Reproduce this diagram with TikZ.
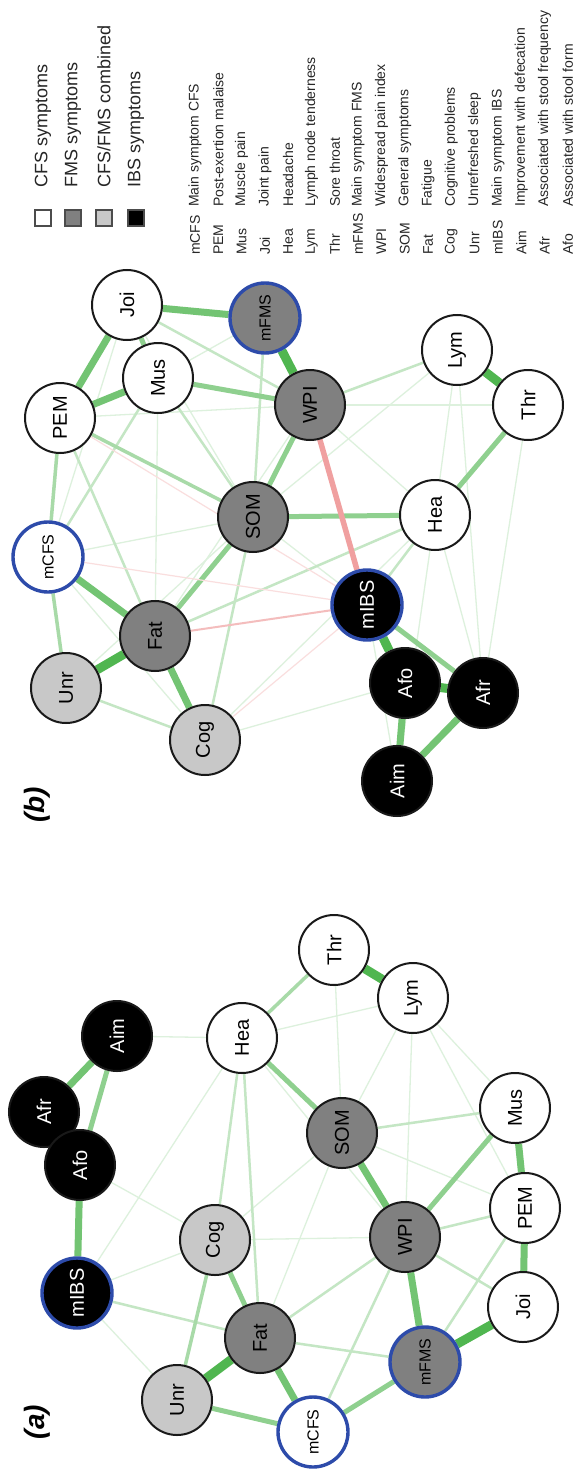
\documentclass[tikz,border=0pt]{standalone}
\usepackage{fontspec}
\setmainfont{Liberation Sans}
\definecolor{gr}{RGB}{115,196,115}
\definecolor{grd}{RGB}{80,182,80}
\definecolor{pk}{RGB}{240,160,160}
\definecolor{blu}{RGB}{45,75,170}
\definecolor{fmsc}{RGB}{128,128,128}
\definecolor{cmbc}{RGB}{200,200,200}
\pgfdeclarelayer{edges}
\pgfsetlayers{edges,main}
\begin{document}
\begin{tikzpicture}[x=1pt,y=-1pt,
 sym/.style={circle,draw=black!90,line width=2pt,minimum size=70pt,inner sep=0pt,rotate=90,font=\fontsize{20}{20}\selectfont},
 cfsn/.style={sym,fill=white},
 fmsn/.style={sym,fill=fmsc},
 cmbn/.style={sym,fill=cmbc},
 ibsn/.style={sym,fill=black,text=white},
 mainn/.style={draw=blu,line width=3.4pt},
 smalltxt/.style={font=\fontsize{16}{16}\selectfont},
 lwA/.style={draw=gr!24,line width=1.3pt},
 lwB/.style={draw=gr!42,line width=2.5pt},
 lwC/.style={draw=gr!62,line width=3.5pt},
 lwD/.style={draw=gr!80,line width=5pt},
 lwE/.style={draw=gr,line width=7pt},
 lwF/.style={draw=grd,line width=9pt},
 pkA/.style={draw=pk!35,line width=1.2pt},
 pkB/.style={draw=pk!70,line width=2pt},
 pkC/.style={draw=pk,line width=5.5pt},
 legsq/.style={draw=black!70,line width=1.2pt,minimum size=16pt,inner sep=0pt},
 legtxt/.style={rotate=90,anchor=west,inner sep=0pt,text=black!85,font=\fontsize{18}{18}\selectfont},
 abbr/.style={rotate=90,anchor=west,inner sep=0pt,text=black!85,font=\fontsize{14}{14}\selectfont},
 panel/.style={rotate=90,inner sep=0pt,font=\fontsize{28}{28}\selectfont\bfseries\itshape}
]
\useasboundingbox (0,0) rectangle (587,1471);
\begin{pgfonlayer}{edges}
\fill[white] (0,0) rectangle (587,1471);
\end{pgfonlayer}

% ---------- panel (b) nodes ----------
\node[cfsn] (bJoi) at (127,305) {Joi};
\node[fmsn,mainn,smalltxt] (bmFMS) at (265,318) {mFMS};
\node[cfsn] (bMus) at (158,378) {Mus};
\node[cfsn] (bPEM) at (60,418) {PEM};
\node[cfsn,mainn,smalltxt] (bmCFS) at (48,557) {mCFS};
\node[fmsn] (bFat) at (155,636) {Fat};
\node[cmbn] (bUnr) at (66,688) {Unr};
\node[cmbn] (bCog) at (205,740) {Cog};
\node[fmsn] (bSOM) at (253,517) {SOM};
\node[fmsn] (bWPI) at (310,405) {WPI};
\node[cfsn] (bLym) at (457,350) {Lym};
\node[cfsn] (bThr) at (528,405) {Thr};
\node[cfsn] (bHea) at (435,515) {Hea};
\node[ibsn,mainn] (bmIBS) at (367,605) {mIBS};
\node[ibsn] (bAfo) at (405,683) {Afo};
\node[ibsn] (bAfr) at (483,693) {Afr};
\node[ibsn] (bAim) at (397,781) {Aim};

% ---------- panel (a) nodes ----------
\node[ibsn] (aAfr) at (44,1112) {Afr};
\node[ibsn] (aAim) at (117,1036) {Aim};
\node[ibsn] (aAfo) at (80,1165) {Afo};
\node[ibsn,mainn] (amIBS) at (77,1293) {mIBS};
\node[cmbn] (aCog) at (215,1240) {Cog};
\node[cfsn] (aHea) at (242,1038) {Hea};
\node[cfsn] (aThr) at (334,950) {Thr};
\node[cfsn] (aLym) at (413,998) {Lym};
\node[fmsn] (aSOM) at (342,1133) {SOM};
\node[cfsn] (aMus) at (515,1108) {Mus};
\node[fmsn] (aWPI) at (405,1237) {WPI};
\node[cfsn] (aPEM) at (525,1208) {PEM};
\node[fmsn] (aFat) at (260,1338) {Fat};
\node[cmbn] (aUnr) at (177,1400) {Unr};
\node[fmsn,mainn,smalltxt] (amFMS) at (425,1362) {mFMS};
\node[cfsn] (aJoi) at (523,1307) {Joi};
\node[cfsn,mainn,smalltxt] (amCFS) at (313,1432) {mCFS};

% ---------- edges ----------
\begin{pgfonlayer}{edges}
% panel (b)
\foreach \u/\v in {bJoi/bSOM,bmFMS/bMus,bWPI/bHea,bWPI/bThr,bSOM/bmIBS,bHea/bLym,bHea/bAim,bFat/bWPI,bCog/bHea,bmCFS/bCog,bFat/bMus,bPEM/bWPI,bSOM/bLym,bmIBS/bAim,bThr/bAfr,bLym/bAfr,bUnr/bSOM,bmCFS/bJoi,bmCFS/bSOM,bCog/bAfo,bHea/bAfr}
  \draw[lwA] (\u) -- (\v);
\foreach \u/\v in {bmCFS/bMus,bFat/bHea,bUnr/bCog,bPEM/bFat,bMus/bSOM,bJoi/bWPI,bmFMS/bSOM,bWPI/bLym,bHea/bmIBS,bCog/bSOM}
  \draw[lwB] (\u) -- (\v);
\foreach \u/\v in {bmCFS/bUnr,bmCFS/bPEM,bSOM/bPEM}
  \draw[lwC] (\u) -- (\v);
\foreach \u/\v in {bJoi/bMus,bMus/bWPI,bSOM/bWPI,bSOM/bHea,bSOM/bFat,bHea/bThr,bmIBS/bAfr}
  \draw[lwD] (\u) -- (\v);
\foreach \u/\v in {bmCFS/bFat,bFat/bCog,bPEM/bMus,bPEM/bJoi,bJoi/bmFMS,bAfo/bAim,bAfr/bAim}
  \draw[lwE] (\u) -- (\v);
\foreach \u/\v in {bUnr/bFat,bmFMS/bWPI,bLym/bThr,bmIBS/bAfo,bAfo/bAfr}
  \draw[lwF] (\u) -- (\v);
\draw[pkA] (bCog) -- (bmIBS);
\draw[pkA] (bmCFS) -- (bmIBS);
\draw[pkA] (bPEM) -- (bmIBS);
\draw[pkB] (bFat) -- (bmIBS);
\draw[pkC] (bWPI) -- (bmIBS);
% panel (a)
\foreach \u/\v in {aHea/aAim,amIBS/aUnr,aLym/aMus,aLym/aPEM,aSOM/aFat,aSOM/aPEM,aLym/aSOM,aHea/aLym,aCog/aSOM,aCog/aWPI,aHea/aWPI,amIBS/aCog,aHea/amIBS,aAfo/aCog,aLym/aWPI,aThr/aSOM}
  \draw[lwA] (\u) -- (\v);
\foreach \u/\v in {aHea/aFat,aHea/aCog,amIBS/aFat,aSOM/aMus,aFat/amFMS,amCFS/aWPI,aWPI/aJoi,aWPI/aPEM,amFMS/aPEM,aFat/aWPI}
  \draw[lwB] (\u) -- (\v);
\foreach \u/\v in {aCog/aUnr,aHea/aThr}
  \draw[lwC] (\u) -- (\v);
\foreach \u/\v in {aAfo/aAim,aUnr/amCFS,aFat/aCog,amCFS/amFMS,aWPI/aMus,aSOM/aHea}
  \draw[lwD] (\u) -- (\v);
\foreach \u/\v in {amIBS/aAfo,aAfr/aAim,aFat/amCFS,amFMS/aWPI,aWPI/aSOM,aJoi/aPEM,aPEM/aMus}
  \draw[lwE] (\u) -- (\v);
\foreach \u/\v in {aAfo/aAfr,aUnr/aFat,amFMS/aJoi,aThr/aLym}
  \draw[lwF] (\u) -- (\v);
\end{pgfonlayer}

% ---------- legend ----------
\node[legsq,fill=white] (sq0) at (43,218) {};
\node[legsq,fill=fmsc] (sq1) at (73,218) {};
\node[legsq,fill=cmbc] (sq2) at (104,218) {};
\node[legsq,fill=black] (sq3) at (136,218) {};
\node[legtxt] (lt0) at (43,188) {CFS symptoms};
\node[legtxt] (lt1) at (73,188) {FMS symptoms};
\node[legtxt] (lt2) at (104,188) {CFS/FMS combined};
\node[legtxt] (lt3) at (136,188) {IBS symptoms};

\foreach \a/\d [count=\k from 0] in {mCFS/Main symptom CFS,PEM/Post-exertion malaise,Mus/Muscle pain,Joi/Joint pain,Hea/Headache,Lym/Lymph node tenderness,Thr/Sore throat,mFMS/Main symptom FMS,WPI/Widespread pain index,SOM/General symptoms,Fat/Fatigue,Cog/Cognitive problems,Unr/Unrefreshed sleep,mIBS/Main symptom IBS,Aim/Improvement with defecation,Afr/Associated with stool frequency,Afo/Associated with stool form}
{
  \node[abbr] (ab\k) at ({195+23.3*\k},255) {\a};
  \node[abbr] (de\k) at ({195+23.3*\k},207) {\d};
}

% ---------- panel labels ----------
\node[panel] (pb) at (37,805) {(b)};
\node[panel] (pa) at (37,1422) {(a)};
\end{tikzpicture}
\end{document}
